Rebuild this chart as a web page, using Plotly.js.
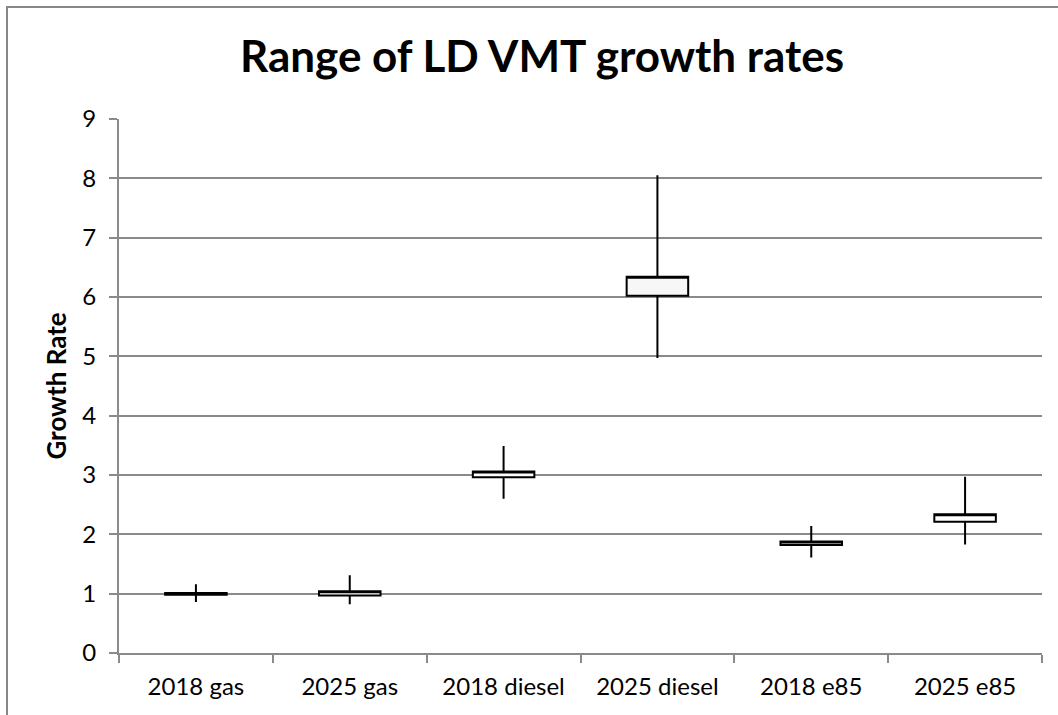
<!DOCTYPE html>
<html>
<head>
<meta charset="utf-8">
<script src="https://cdn.plot.ly/plotly-3.0.1.min.js"></script>
<style>
  html, body { margin: 0; padding: 0; background: #ffffff; }
  #chart { width: 1058px; height: 715px; }
  #frame { position: absolute; left: 6px; top: 6px; width: 1100px; height: 800px;
           border-left: 2px solid #878787; border-top: 2px solid #878787; pointer-events: none; }
</style>
</head>
<body>
<div id="chart"></div>
<div id="frame"></div>
<script>
// Data
var categories = ['2018 gas', '2025 gas', '2018 diesel', '2025 diesel', '2018 e85', '2025 e85'];
var lowValues  = [0.86, 0.82, 2.60, 4.97, 1.61, 1.83];
var highValues = [1.16, 1.31, 3.49, 8.05, 2.14, 2.97];
var boxLow     = [0.98, 0.97, 2.96, 6.02, 1.82, 2.21];
var boxHigh    = [1.01, 1.04, 3.06, 6.34, 1.88, 2.34];
var boxFills   = ['#ffffff', '#ffffff', '#ffffff', '#f7f7f7', '#ffffff', '#ffffff'];
var yTicks     = [0, 1, 2, 3, 4, 5, 6, 7, 8, 9];

var traces = categories.map(function (c, i) {
  return {
    type: 'candlestick',
    x: [c],
    open: [boxLow[i]],
    close: [boxHigh[i]],
    high: [highValues[i]],
    low: [lowValues[i]],
    whiskerwidth: 0,
    increasing: { line: { color: '#000000', width: 2 }, fillcolor: boxFills[i] },
    decreasing: { line: { color: '#000000', width: 2 }, fillcolor: boxFills[i] },
    showlegend: false,
    hoverinfo: 'skip',
    name: c
  };
});

var gridColor = '#8a8a8a';
var layout = {
  width: 1058,
  height: 715,
  margin: { l: 119, r: 16, t: 119, b: 62 },
  paper_bgcolor: '#ffffff',
  plot_bgcolor: '#ffffff',
  font: { family: 'Lato, "Open Sans", sans-serif', color: '#000000', size: 24 },
  showlegend: false,
  boxgap: 0.6,
  boxgroupgap: 0,
  title: {
    text: '<b>Range of LD VMT growth rates</b>',
    font: { family: 'Lato, sans-serif', size: 44, color: '#000000' },
    x: 542 / 1058, xanchor: 'center',
    xref: 'container', yref: 'container',
    y: 1 - 57 / 715, yanchor: 'middle'
  },
  xaxis: {
    type: 'category',
    categoryorder: 'array',
    categoryarray: categories,
    rangeslider: { visible: false },
    showgrid: false,
    showline: true,
    linecolor: gridColor,
    linewidth: 2,
    ticks: 'outside',
    tickson: 'boundaries',
    ticklen: 8,
    tickcolor: gridColor,
    tickwidth: 2,
    tickfont: { size: 24, color: '#000000' },
    ticklabelstandoff: 11,
    fixedrange: true
  },
  yaxis: {
    range: [0, 9],
    tickvals: yTicks,
    ticktext: yTicks.map(String),
    showgrid: true,
    gridcolor: gridColor,
    gridwidth: 2,
    zeroline: false,
    showline: true,
    linecolor: gridColor,
    linewidth: 2,
    ticks: 'outside',
    ticklen: 8,
    tickcolor: gridColor,
    tickwidth: 2,
    tickfont: { size: 24, color: '#000000' },
    ticklabelstandoff: 8,
    title: {
      text: '<b>Growth Rate</b>',
      font: { size: 26, color: '#000000' },
      standoff: 8
    },
    automargin: false,
    fixedrange: true
  }
};

Plotly.newPlot('chart', traces, layout, { displayModeBar: false, staticPlot: true });
</script>
</body>
</html>
